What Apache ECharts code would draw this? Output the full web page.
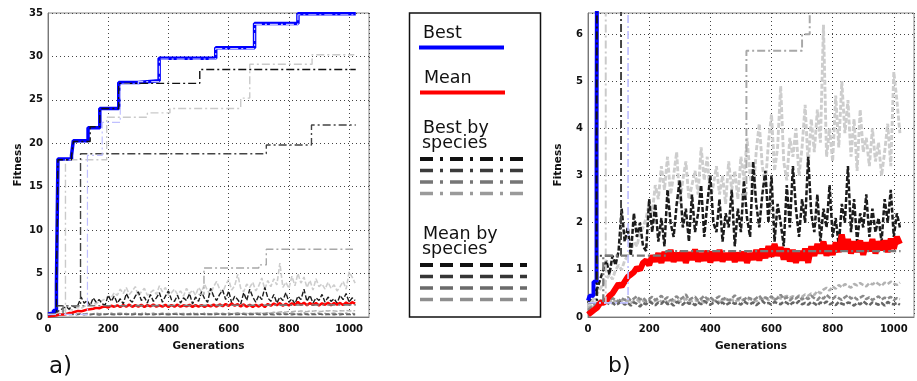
<!DOCTYPE html>
<html>
<head>
<meta charset="utf-8">
<script src="https://cdn.jsdelivr.net/npm/echarts@6/dist/echarts.min.js"></script>
<style>
  html, body { margin: 0; padding: 0; background: #fff; }
  #chart { width: 917px; height: 381px; }
</style>
</head>
<body>
<div id="chart"></div>
<script>
// generations sampled every 10 (noisy per-generation curves)
var gens = [
  0, 10, 20, 30, 40, 50, 60, 70, 80, 90,
  100, 110, 120, 130, 140, 150, 160, 170, 180, 190,
  200, 210, 220, 230, 240, 250, 260, 270, 280, 290,
  300, 310, 320, 330, 340, 350, 360, 370, 380, 390,
  400, 410, 420, 430, 440, 450, 460, 470, 480, 490,
  500, 510, 520, 530, 540, 550, 560, 570, 580, 590,
  600, 610, 620, 630, 640, 650, 660, 670, 680, 690,
  700, 710, 720, 730, 740, 750, 760, 770, 780, 790,
  800, 810, 820, 830, 840, 850, 860, 870, 880, 890,
  900, 910, 920, 930, 940, 950, 960, 970, 980, 990,
  1000, 1010, 1020
]

// mean fitness of the whole population (red)
var meanAll = [
  0.05, 0.1, 0.15, 0.2, 0.3, 0.3, 0.35, 0.45, 0.5, 0.6,
  0.7, 0.65, 0.75, 0.85, 0.9, 0.95, 1.05, 1.0, 1.15, 1.2,
  1.1, 1.3, 1.18, 1.35, 1.15, 1.38, 1.2, 1.42, 1.17, 1.36,
  1.2, 1.4, 1.15, 1.37, 1.22, 1.43, 1.18, 1.35, 1.2, 1.4,
  1.16, 1.38, 1.2, 1.42, 1.18, 1.35, 1.22, 1.4, 1.17, 1.36,
  1.2, 1.38, 1.15, 1.35, 1.22, 1.42, 1.2, 1.45, 1.25, 1.5,
  1.28, 1.55, 1.3, 1.48, 1.22, 1.45, 1.18, 1.42, 1.15, 1.4,
  1.2, 1.45, 1.15, 1.5, 1.3, 1.55, 1.35, 1.6, 1.3, 1.52,
  1.32, 1.58, 1.38, 1.75, 1.4, 1.65, 1.35, 1.6, 1.38, 1.62,
  1.32, 1.58, 1.4, 1.65, 1.35, 1.6, 1.42, 1.62, 1.38, 1.66,
  1.45, 1.7, 1.55
]

// mean by species (dashed)
var meanSpDark = [
  0.3, 0.4, 0.5, 0.6, 0.8, 1.0, 1.2, 0.9, 1.3, 1.1,
  1.4, 2.3, 1.6, 1.9, 1.3, 2.2, 1.7, 2.0, 1.5, 1.4,
  2.5, 1.8, 2.4, 1.6, 2.1, 1.5, 2.7, 2.0, 1.7, 2.4,
  2.9, 1.9, 2.3, 1.6, 2.6, 1.8, 2.2, 2.8, 1.7, 2.4,
  3.0, 2.0, 1.8, 2.5, 1.6, 2.2, 1.9, 2.7, 1.5, 2.3,
  1.8, 2.9, 2.1, 1.7, 3.3, 2.4, 1.9, 2.6, 3.1, 2.0,
  3.0, 1.6, 2.4, 2.0, 1.5, 2.8, 1.9, 3.2, 2.3, 1.7,
  2.5, 2.0, 3.4, 2.2, 1.8, 2.6, 1.6, 2.3, 1.9, 2.8,
  1.7, 2.1, 1.5, 2.4, 2.0, 3.2, 1.8, 2.5, 1.6, 2.2,
  1.9, 2.6, 1.7, 2.3, 1.8, 2.1, 1.6, 2.5, 2.0, 2.7,
  1.7, 2.2, 1.9
]
var meanSpLight = [
  0.2, 0.3, 0.4, 0.5, 0.6, 0.7, 0.8, 0.9, 0.8, 1.0,
  1.1, 1.0, 1.2, 1.3, 1.4, 1.6, 1.5, 1.8, 1.9, 2.1,
  2.4, 2.2, 2.8, 2.5, 3.2, 2.7, 3.4, 2.6, 3.0, 3.5,
  2.4, 2.9, 3.3, 2.5, 2.8, 3.1, 2.6, 3.6, 2.9, 3.4,
  2.5, 2.8, 3.2, 2.6, 3.0, 2.4, 3.3, 2.7, 3.1, 2.5,
  3.4, 2.9, 3.8, 3.0, 2.6, 3.5, 4.1, 3.2, 2.8, 3.7,
  4.3, 3.1, 3.6, 4.9, 3.3, 2.9, 3.8, 3.4, 4.0, 3.0,
  3.6, 4.5, 3.2, 4.2, 3.5, 4.4, 3.7, 6.2, 3.4, 4.0,
  3.3, 4.7, 3.6, 5.0, 3.9, 4.6, 3.4, 4.2, 3.1, 4.4,
  3.5, 3.8, 3.2, 4.0, 3.3, 3.7, 3.0, 3.5, 4.1, 3.2,
  5.2, 4.6, 3.9
]
var meanSpLowDark = [
  0.1, 0.15, 0.2, 0.25, 0.3, 0.28, 0.32, 0.27, 0.3, 0.25,
  0.29, 0.33, 0.26, 0.3, 0.24, 0.31, 0.28, 0.22, 0.3, 0.27,
  0.33, 0.29, 0.25, 0.31, 0.28, 0.35, 0.27, 0.3, 0.24, 0.32,
  0.29, 0.26, 0.33, 0.28, 0.3, 0.25, 0.31, 0.27, 0.34, 0.29,
  0.26, 0.3, 0.33, 0.27, 0.31, 0.25, 0.29, 0.32, 0.28, 0.3,
  0.26, 0.33, 0.29, 0.27, 0.31, 0.25, 0.3, 0.34, 0.28, 0.3,
  0.26, 0.32, 0.29, 0.27, 0.33, 0.3, 0.25, 0.31, 0.28, 0.34,
  0.27, 0.3, 0.26, 0.32, 0.29, 0.24, 0.31, 0.28, 0.33, 0.27,
  0.3, 0.25, 0.32, 0.28, 0.26, 0.31, 0.29, 0.24, 0.3, 0.27,
  0.33, 0.28, 0.25, 0.31, 0.29, 0.26, 0.3, 0.24, 0.32, 0.28,
  0.27, 0.3, 0.26
]
var meanSpLowMid = [
  0.15, 0.2, 0.25, 0.3, 0.35, 0.33, 0.38, 0.34, 0.4, 0.36,
  0.33, 0.4, 0.36, 0.42, 0.35, 0.39, 0.44, 0.37, 0.41, 0.34,
  0.38, 0.43, 0.36, 0.4, 0.45, 0.37, 0.42, 0.35, 0.39, 0.44,
  0.37, 0.41, 0.48, 0.36, 0.4, 0.43, 0.35, 0.39, 0.45, 0.38,
  0.42, 0.36, 0.4, 0.44, 0.37, 0.41, 0.35, 0.39, 0.46, 0.38,
  0.41, 0.36, 0.43, 0.39, 0.35, 0.4, 0.45, 0.37, 0.42, 0.38,
  0.44, 0.36, 0.4, 0.47, 0.38, 0.42, 0.35, 0.41, 0.39, 0.44,
  0.37, 0.42, 0.38, 0.45, 0.4, 0.36, 0.43, 0.39, 0.47, 0.41,
  0.38, 0.44, 0.4, 0.36, 0.42, 0.46, 0.39, 0.43, 0.37, 0.41,
  0.45, 0.38, 0.42, 0.36, 0.4, 0.44, 0.37, 0.41, 0.39, 0.43,
  0.36, 0.4, 0.38
]
var meanSpLowLight = [
  0.2, 0.22, 0.25, 0.28, 0.3, 0.32, 0.3, 0.35, 0.31, 0.34,
  0.3, 0.36, 0.32, 0.35, 0.29, 0.34, 0.37, 0.31, 0.35, 0.33,
  0.36, 0.3, 0.34, 0.38, 0.32, 0.35, 0.31, 0.36, 0.33, 0.37,
  0.32, 0.35, 0.39, 0.31, 0.34, 0.36, 0.33, 0.37, 0.3, 0.35,
  0.38, 0.33, 0.36, 0.31, 0.35, 0.39, 0.34, 0.37, 0.32, 0.36,
  0.34, 0.38, 0.35, 0.4, 0.36, 0.33, 0.39, 0.37, 0.41, 0.36,
  0.4, 0.38, 0.43, 0.39, 0.42, 0.45, 0.41, 0.44, 0.4, 0.46,
  0.43, 0.48, 0.45, 0.5, 0.47, 0.55, 0.5, 0.58, 0.62, 0.56,
  0.65, 0.6, 0.68, 0.63, 0.7, 0.66, 0.62, 0.7, 0.67, 0.72,
  0.68, 0.65, 0.72, 0.69, 0.74, 0.7, 0.66, 0.73, 0.7, 0.75,
  0.71, 0.68, 0.73
]

// best fitness: [generation where value changes, new value]
var bestAll = [[0, 0.35], [5, 0.45], [18, 0.75], [28, 3.6], [33, 18.2], [78, 18.6], [84, 20.3], [133, 21.8], [172, 24], [235, 27], [300, 27.2], [369, 29.8], [557, 31], [686, 33.8], [830, 34.9], [1022, 34.9]]

// best by species (dash-dot)
var bestSpA = [[0, 0.3], [28, 3.5], [33, 18.1], [78, 18.5], [84, 20.2], [140, 21.9], [172, 24], [235, 26.9], [504, 28.5], [1022, 28.5]]
var bestSpB = [[0, 0.3], [30, 1.3], [108, 18.8], [725, 19.8], [875, 22.1], [1022, 22.1]]
var bestSpC = [[0, 0.3], [58, 18.1], [195, 23], [330, 23.5], [405, 24], [640, 25.2], [670, 29.1], [877, 30.2], [1017, 30.2]]
var bestSpD = [[0, 0.3], [131, 18.6], [180, 22.4], [240, 26.8], [300, 27.1], [370, 29.7], [557, 30.9], [686, 33.7], [830, 34.8], [1022, 34.8]]
var bestSpE = [[500, 2.6], [518, 5.65], [700, 6.0], [725, 7.8], [1013, 7.8]]
var bestSpF = [[0, 0.3], [50, 1.3], [255, 1.4], [1022, 1.4]]

var yTicksA = [0, 5, 10, 15, 20, 25, 30, 35]
var yTicksB = [0, 1, 2, 3, 4, 5, 6]

var myChart = echarts.init(document.getElementById('chart'))

var tickFont = { fontFamily: 'DejaVu Sans', fontWeight: 'bold', fontSize: 10, color: '#111' }
var nameFont = { fontFamily: 'DejaVu Sans', fontWeight: 'bold', fontSize: 10.5, color: '#111' }

function pairs(vals) {
  return gens.map(function (g, i) { return [g, vals[i]] })
}

function xAxisFor(gi) {
  return {
    gridIndex: gi, type: 'value', min: 0, max: 1066, interval: 200,
    name: 'Generations', nameLocation: 'middle', nameGap: 24, nameTextStyle: nameFont,
    axisLine: { onZero: false, lineStyle: { color: '#777', width: 1 } },
    axisTick: { show: false },
    axisLabel: Object.assign({ margin: 7, formatter: function (v) { return v % 200 === 0 ? v : '' } }, tickFont),
    splitLine: { show: true, lineStyle: { color: '#444', type: [1, 3], width: 1 } }
  }
}

function yAxisFor(gi, max, step, ticks) {
  return {
    gridIndex: gi, type: 'value', min: 0, max: max, interval: step,
    name: 'Fitness', nameLocation: 'middle', nameGap: 24, nameTextStyle: nameFont,
    axisLine: { onZero: false, lineStyle: { color: '#777', width: 1 } },
    axisTick: { show: false },
    axisLabel: Object.assign({ margin: 5, formatter: function (v) { return ticks.indexOf(v) >= 0 ? v : '' } }, tickFont),
    splitLine: { show: true, lineStyle: { color: '#444', type: [1, 3], width: 1 } }
  }
}

// one line per series and per panel
function line(gi, data, color, width, type, step) {
  return {
    type: 'line', xAxisIndex: gi, yAxisIndex: gi, data: data,
    symbol: 'none', silent: true, step: step || false, clip: true,
    lineStyle: { color: color, width: width, type: type || 'solid', cap: 'butt' }
  }
}

var series = []
;[0, 1].forEach(function (gi) {
  var k = gi === 0 ? 1 : 1.4
  var n = gi === 0 ? 1 : 1.8
  series.push(line(gi, pairs(meanSpLight), '#cdcdcd', 1.6 * n, [5, 2]))
  series.push(line(gi, pairs(meanSpDark), '#1c1c1c', 1.4 * n, [5, 2]))
  series.push(line(gi, pairs(meanSpLowLight), '#b2b2b2', 1.4 * n, [5, 2]))
  series.push(line(gi, pairs(meanSpLowMid), '#8a8a8a', 1.4 * n, [5, 2]))
  series.push(line(gi, pairs(meanSpLowDark), '#666666', 1.4 * n, [5, 2]))
  series.push(line(gi, pairs(meanAll), '#ff0000', gi === 0 ? 2.5 : 6))
  series.push(line(gi, bestAll, '#0000ff', gi === 0 ? 3.5 : 4, 'solid', 'end'))
  series.push(line(gi, bestSpE, '#a8a8a8', 1.4 * k, [8, 3, 2, 3], 'end'))
  series.push(line(gi, bestSpC, '#cacaca', 1.4 * k, [8, 3, 2, 3], 'end'))
  series.push(line(gi, bestSpB, '#444444', 1.4 * k, [8, 3, 2, 3], 'end'))
  series.push(line(gi, bestSpF, '#7a7a7a', 1.6 * k, [8, 3, 2, 3], 'end'))
  series.push(line(gi, bestSpA, '#111111', 1.4 * k, [8, 3, 2, 3], 'end'))
  series.push(line(gi, bestSpD, '#c0c0ff', 1.2 * k, [8, 3, 2, 3], 'end'))
})

// legend box in the middle, drawn by hand
var legendFont = '17.5px "DejaVu Sans"'
var graphic = [
  { type: 'rect', shape: { x: 409.5, y: 13, width: 131, height: 304 }, style: { fill: '#fff', stroke: '#111', lineWidth: 1.5 } },
  { type: 'text', x: 423, y: 33, style: { text: 'Best', font: legendFont, fill: '#111', verticalAlign: 'middle' } },
  { type: 'line', shape: { x1: 419, y1: 47.5, x2: 504, y2: 47.5 }, style: { stroke: '#0000ff', lineWidth: 4 } },
  { type: 'text', x: 424, y: 78.5, style: { text: 'Mean', font: legendFont, fill: '#111', verticalAlign: 'middle' } },
  { type: 'line', shape: { x1: 420, y1: 92.5, x2: 505, y2: 92.5 }, style: { stroke: '#ff0000', lineWidth: 4 } },
  { type: 'text', x: 423, y: 128, style: { text: 'Best by', font: legendFont, fill: '#111', verticalAlign: 'middle' } },
  { type: 'text', x: 422, y: 143, style: { text: 'species', font: legendFont, fill: '#111', verticalAlign: 'middle' } },
  { type: 'text', x: 423, y: 234, style: { text: 'Mean by', font: legendFont, fill: '#111', verticalAlign: 'middle' } },
  { type: 'text', x: 422, y: 249.5, style: { text: 'species', font: legendFont, fill: '#111', verticalAlign: 'middle' } },
  { type: 'text', x: 49, y: 367, style: { text: 'a)', font: '23px "DejaVu Sans"', fill: '#111', verticalAlign: 'middle' } },
  { type: 'text', x: 608, y: 366, style: { text: 'b)', font: '22px "DejaVu Sans"', fill: '#111', verticalAlign: 'middle' } }
]
var legendBest = [[159, '#111111', 4], [170.5, '#3c3c3c', 3.5], [182, '#767676', 3.5], [193.5, '#9a9a9a', 3.5]]
legendBest.forEach(function (d) {
  graphic.push({ type: 'line', shape: { x1: 420, y1: d[0], x2: 523, y2: d[0] }, style: { stroke: d[1], lineWidth: d[2], lineDash: [13, 7, 3, 7] } })
})
var legendMean = [[265, '#111111', 4], [276.5, '#363636', 3.5], [288, '#6a6a6a', 3.5], [299.5, '#8e8e8e', 3.5]]
legendMean.forEach(function (d) {
  graphic.push({ type: 'line', shape: { x1: 420, y1: d[0], x2: 527, y2: d[0] }, style: { stroke: d[1], lineWidth: d[2], lineDash: [13, 7] } })
})

var option = {
  animation: false,
  backgroundColor: '#fff',
  grid: [
    { left: 48, top: 13, width: 321, height: 304, show: true, borderColor: '#888', borderWidth: 1, backgroundColor: 'transparent' },
    { left: 588, top: 13, width: 339, height: 304, show: true, borderColor: '#888', borderWidth: 1, backgroundColor: 'transparent' }
  ],
  xAxis: [xAxisFor(0), xAxisFor(1)],
  yAxis: [yAxisFor(0, 35, 5, yTicksA), yAxisFor(1, 6.45, 1, yTicksB)],
  series: series,
  graphic: graphic
}

myChart.setOption(option, true)
</script>
</body>
</html>
